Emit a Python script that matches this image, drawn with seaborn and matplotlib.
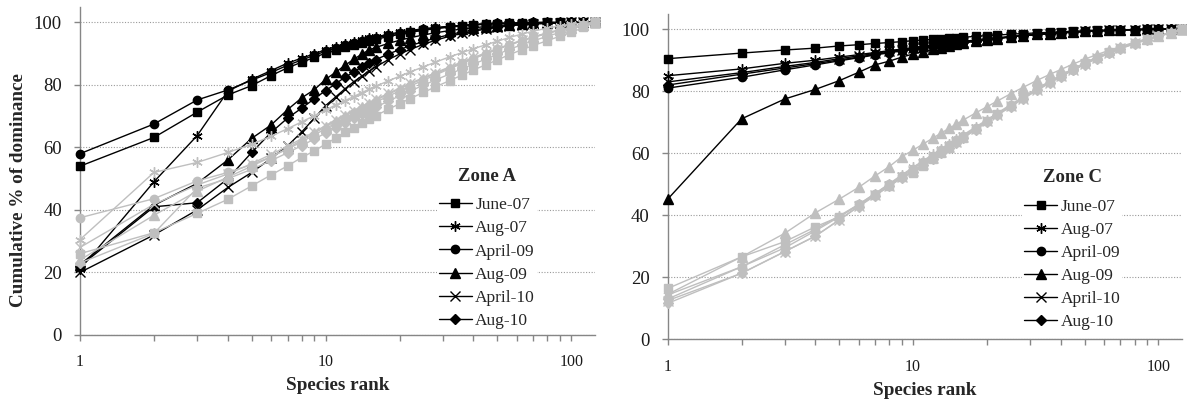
import numpy as np
import pandas as pd
import matplotlib
matplotlib.use("Agg")
import matplotlib.pyplot as plt
import matplotlib.ticker as mticker
import seaborn as sns

# species ranks sampled along each curve
ranks = [1, 2, 3, 4, 5, 6, 7, 8, 9, 10, 11, 12, 13, 14, 15, 16, 18, 20, 22, 25,
         28, 32, 36, 40, 45, 50, 56, 63, 70, 80, 90, 100, 112, 125]

dates = ["June-07", "Aug-07", "April-09", "Aug-09", "April-10", "Aug-10"]
y_ticks = [0, 20, 40, 60, 80, 100]
x_ticks = [1, 10, 100]

# Zone A - observed (black)
a_june07 = [54, 63.2, 71.3, 76.8, 79.8, 83, 85.5, 87.3, 88.8, 90.2, 91.2, 92.1, 92.9, 93.5, 94.1, 94.6, 95.5,
            96.2, 96.8, 97.5, 98, 98.5, 98.9, 99.2, 99.4, 99.6, 99.7, 99.8, 99.9, 100, 100, 100, 100, 100]
a_aug07 = [21, 49, 63.8, 78, 81.8, 84.6, 87, 88.6, 90, 91.3, 92.3, 93.1, 93.8, 94.4, 95, 95.4, 96.2,
           96.9, 97.4, 98, 98.4, 98.8, 99.1, 99.4, 99.6, 99.7, 99.8, 99.9, 100, 100, 100, 100, 100, 100]
a_apr09 = [58, 67.5, 75.2, 78.4, 81.5, 84, 86.3, 88, 89.5, 90.8, 91.8, 92.7, 93.4, 94, 94.6, 95.1, 95.9,
           96.6, 97.1, 97.8, 98.2, 98.7, 99, 99.3, 99.5, 99.7, 99.8, 99.9, 100, 100, 100, 100, 100, 100]
a_aug09 = [22.5, 41.5, 48.5, 56, 62.9, 67.2, 72.1, 75.9, 78.5, 81.8, 84.1, 86.3, 88.2, 89.8, 91.2, 92, 93.3,
           94.3, 95.1, 96, 96.7, 97.4, 97.9, 98.3, 98.7, 99, 99.3, 99.5, 99.7, 99.8, 99.9, 100, 100, 100]
a_apr10 = [20, 32, 40, 47.2, 52, 56.5, 60.5, 65, 69.4, 73.4, 76.2, 78.8, 81, 82.8, 84.4, 85.8, 88.1,
           89.9, 91.3, 93, 94.3, 95.6, 96.5, 97.2, 97.9, 98.4, 98.9, 99.3, 99.5, 99.7, 99.85, 100, 100, 100]
a_aug10 = [22, 41, 42.3, 50, 58.4, 64.8, 69.4, 72.6, 75.6, 78.2, 80.4, 82.5, 84.1, 85.7, 87, 88.1, 89.9,
           91.3, 92.5, 93.9, 95, 96.1, 97, 97.6, 98.2, 98.7, 99.1, 99.4, 99.6, 99.8, 99.9, 100, 100, 100]

# Zone A - expected (grey)
a_june07_g = [26, 32.7, 38.9, 43.4, 47.7, 51.2, 54.1, 56.8, 58.9, 61.1, 63, 64.8, 66.3, 67.7, 69, 70.2, 72.2,
              74, 75.6, 77.6, 79.4, 81.4, 83.2, 84.8, 86.5, 88, 89.7, 91.3, 92.6, 94.2, 95.6, 96.8, 98.4, 100]
a_aug07_g = [30.5, 52, 55.2, 58.4, 61, 63.6, 66, 68.2, 70.2, 72, 73.6, 75, 76.3, 77.5, 78.6, 79.6, 81.3,
             82.8, 84.1, 85.8, 87.3, 89, 90.4, 91.6, 92.9, 94, 95.2, 96.3, 97.2, 98.2, 98.9, 99.4, 99.8, 100]
a_apr09_g = [37.5, 43.6, 49.3, 52, 54.5, 57, 59.5, 61.8, 64, 66, 67.8, 69.4, 70.9, 72.2, 73.4, 74.5, 76.4,
             78.1, 79.6, 81.5, 83.2, 85.2, 86.9, 88.4, 90, 91.4, 92.9, 94.2, 95.3, 96.6, 97.6, 98.4, 99.3, 100]
a_aug09_g = [24, 38.3, 46, 50.5, 54, 57, 59.8, 62.3, 64.6, 66.6, 68.4, 70, 71.5, 72.8, 74, 75.1, 77,
             78.7, 80.2, 82, 83.6, 85.5, 87.1, 88.5, 90, 91.4, 92.8, 94.1, 95.2, 96.5, 97.5, 98.3, 99.2, 100]
a_apr10_g = [28, 41.8, 48, 51.5, 54.8, 57.8, 60.4, 62.8, 65, 67, 68.8, 70.4, 71.8, 73.1, 74.3, 75.4, 77.3,
             79, 80.5, 82.3, 83.9, 85.8, 87.4, 88.8, 90.3, 91.6, 93, 94.3, 95.4, 96.7, 97.7, 98.5, 99.3, 100]
a_aug10_g = [23, 32.5, 47, 50, 53, 55.8, 58.3, 60.6, 62.7, 64.6, 66.3, 67.9, 69.3, 70.6, 71.8, 72.9, 74.8,
             76.5, 78, 79.9, 81.6, 83.5, 85.2, 86.7, 88.3, 89.8, 91.4, 92.9, 94.1, 95.6, 96.8, 97.8, 99, 100]

# Zone C - observed (black)
c_june07 = [90.5, 92.3, 93.3, 93.9, 94.6, 95, 95.4, 95.7, 96, 96.3, 96.5, 96.7, 96.9, 97.1, 97.3, 97.4, 97.7,
            97.9, 98.1, 98.4, 98.6, 98.8, 99, 99.2, 99.3, 99.5, 99.6, 99.7, 99.8, 99.9, 100, 100, 100, 100]
c_aug07 = [85, 87.2, 89, 90, 91, 91.8, 92.5, 93.1, 93.6, 94.1, 94.5, 94.9, 95.2, 95.5, 95.8, 96.1, 96.5,
           96.9, 97.2, 97.6, 97.9, 98.3, 98.6, 98.8, 99.1, 99.3, 99.5, 99.6, 99.75, 99.85, 99.95, 100, 100, 100]
c_apr09 = [81, 84.5, 86.9, 88.5, 89.8, 90.8, 91.7, 92.4, 93, 93.6, 94, 94.5, 94.8, 95.2, 95.5, 95.8, 96.3,
           96.7, 97.1, 97.5, 97.9, 98.3, 98.6, 98.8, 99.1, 99.3, 99.5, 99.6, 99.75, 99.85, 99.95, 100, 100, 100]
c_aug09 = [45.2, 71.1, 77.5, 80.6, 83.4, 86.1, 88.5, 89.7, 91, 92, 92.8, 93.5, 94.1, 94.6, 95.1, 95.5, 96.1,
           96.6, 97, 97.5, 97.9, 98.3, 98.6, 98.9, 99.1, 99.3, 99.5, 99.6, 99.75, 99.85, 99.95, 100, 100, 100]
c_apr10 = [83, 86, 88, 89.3, 90.5, 91.4, 92.2, 92.9, 93.4, 93.9, 94.3, 94.7, 95.1, 95.4, 95.7, 96, 96.4,
           96.8, 97.1, 97.6, 97.9, 98.3, 98.6, 98.8, 99.1, 99.3, 99.5, 99.6, 99.75, 99.85, 99.95, 100, 100, 100]
c_aug10 = [82, 85.5, 87.5, 88.9, 90.1, 91, 91.9, 92.6, 93.2, 93.7, 94.2, 94.6, 95, 95.3, 95.6, 95.9, 96.3,
           96.7, 97.1, 97.5, 97.9, 98.3, 98.6, 98.8, 99.1, 99.3, 99.5, 99.6, 99.75, 99.85, 99.95, 100, 100, 100]

# Zone C - expected (grey)
c_june07_g = [16.4, 26.6, 31.5, 36.3, 39.5, 43.3, 46.5, 49.5, 52.5, 53.5, 56, 58, 60, 61.8, 63.5, 65, 67.8,
              70.3, 72.5, 75.3, 77.8, 80.7, 83, 85, 87.2, 89, 90.8, 92.5, 94, 95.6, 96.8, 97.8, 98.9, 100]
c_aug07_g = [14.3, 23.4, 30.5, 35.5, 39.8, 43.5, 47, 50.2, 53, 55.5, 57.6, 59.6, 61.4, 63, 64.5, 65.9, 68.5,
             70.8, 72.9, 75.7, 78.1, 80.9, 83.2, 85.2, 87.3, 89.1, 91, 92.7, 94.1, 95.7, 96.9, 97.9, 99, 100]
c_apr09_g = [13, 23.4, 29.5, 35, 39.5, 43.5, 47, 50, 52.8, 55, 57.2, 59.2, 61, 62.7, 64.2, 65.6, 68.2,
             70.5, 72.6, 75.4, 77.8, 80.6, 82.9, 84.9, 87, 88.8, 90.7, 92.4, 93.9, 95.5, 96.8, 97.8, 98.9, 100]
c_aug09_g = [14.5, 26.6, 34.2, 40.8, 45.2, 49, 52.7, 55.7, 58.9, 61, 63, 64.8, 66.5, 68, 69.4, 70.7, 73,
             75, 76.8, 79.2, 81.2, 83.5, 85.4, 87, 88.8, 90.3, 91.8, 93.2, 94.4, 95.8, 96.9, 97.8, 98.9, 100]
c_apr10_g = [12.5, 21.3, 28.3, 33.3, 38.5, 43, 46.5, 49.5, 52.2, 54.3, 56.5, 58.6, 60.4, 62.1, 63.7, 65.2, 67.9,
             70.3, 72.4, 75.2, 77.6, 80.4, 82.7, 84.8, 86.9, 88.7, 90.6, 92.3, 93.8, 95.4, 96.7, 97.7, 98.8, 100]
c_aug10_g = [11.6, 21.3, 28.3, 33.3, 38.5, 42.8, 46.3, 49.4, 52, 54, 56.3, 58.3, 60.1, 61.8, 63.4, 64.9, 67.6,
             70, 72.2, 75, 77.5, 80.3, 82.6, 84.7, 86.8, 88.6, 90.5, 92.2, 93.7, 95.3, 96.6, 97.7, 98.8, 100]

zone_a_obs = [a_june07, a_aug07, a_apr09, a_aug09, a_apr10, a_aug10]
zone_a_exp = [a_june07_g, a_aug07_g, a_apr09_g, a_aug09_g, a_apr10_g, a_aug10_g]
zone_c_obs = [c_june07, c_aug07, c_apr09, c_aug09, c_apr10, c_aug10]
zone_c_exp = [c_june07_g, c_aug07_g, c_apr09_g, c_aug09_g, c_apr10_g, c_aug10_g]

markers = ['s', (6, 2, 0), 'o', '^', 'x', 'D']
msizes = [6, 7.5, 6, 6.5, 6.5, 5]
BLACK = '#000000'
GREY = '#BFBFBF'
AXIS = '#868686'

sns.set_style('white')
plt.rcParams['font.family'] = ['Liberation Serif', 'DejaVu Serif']

fig = plt.figure(figsize=(11.87, 4.03), dpi=100)
ax_a = fig.add_axes([0.0674, 0.169, 0.4339, 0.814])
ax_c = fig.add_axes([0.5625, 0.158, 0.4335, 0.808])


def draw_panel(ax, obs, exp, title, leg_anchor):
    handles = []
    for i, vals in enumerate(obs):
        sns.lineplot(x=ranks, y=vals, ax=ax, color=BLACK, lw=1, marker=markers[i],
                     markersize=msizes[i], markeredgecolor=BLACK, markerfacecolor=BLACK,
                     markeredgewidth=1, estimator=None, sort=False, legend=False,
                     zorder=3, clip_on=False)
        handles.append(ax.get_lines()[-1])
    for i, vals in enumerate(exp):
        sns.lineplot(x=ranks, y=vals, ax=ax, color=GREY, lw=1, marker=markers[i],
                     markersize=msizes[i], markeredgecolor=GREY, markerfacecolor=GREY,
                     markeredgewidth=1, estimator=None, sort=False, legend=False,
                     zorder=4, clip_on=False)

    ax.set_xscale('log')
    ax.set_xlim(1, 125)
    ax.set_ylim(0, 105)
    ax.set_yticks(y_ticks)
    ax.set_xticks(x_ticks)
    ax.xaxis.set_major_formatter(mticker.FuncFormatter(lambda v, p: f"{v:g}"))
    ax.xaxis.set_minor_locator(mticker.LogLocator(base=10, subs=np.arange(2, 10)))
    ax.xaxis.set_minor_formatter(mticker.NullFormatter())
    ax.yaxis.grid(True, color='#9A9A9A', ls=(0, (1, 1.5)), lw=0.8)
    ax.xaxis.grid(False)
    ax.set_axisbelow(True)
    for s in ['top', 'right']:
        ax.spines[s].set_visible(False)
    for s in ['left', 'bottom']:
        ax.spines[s].set_color(AXIS)
        ax.spines[s].set_linewidth(1)
    ax.tick_params(axis='x', which='both', direction='out', length=4, width=1,
                   color=AXIS, pad=10, labelsize=11.5, labelcolor='#1a1a1a', bottom=True)
    ax.tick_params(axis='y', which='major', direction='out', length=4, width=1,
                   color=AXIS, pad=9, labelsize=13.5, labelcolor='#1a1a1a', left=True)
    ax.set_xlabel('Species rank', fontsize=13.8, fontweight='bold', labelpad=5)
    ax.set_ylabel('')

    leg = ax.legend(handles=handles, labels=dates, loc='upper center', bbox_to_anchor=leg_anchor,
                    title=title, frameon=True, facecolor='white', edgecolor='none', framealpha=1,
                    fontsize=12.5, handlelength=1.9, handletextpad=0.2, labelspacing=0.4,
                    borderpad=0.1, borderaxespad=0)
    leg.get_title().set_fontweight('bold')
    leg.get_title().set_fontsize(13.5)
    leg._legend_box.sep = 9
    leg.set_zorder(5)


draw_panel(ax_a, zone_a_obs, zone_a_exp, 'Zone A', (0.79, 0.515))
draw_panel(ax_c, zone_c_obs, zone_c_exp, 'Zone C', (0.786, 0.528))

ax_a.set_ylabel('Cumulative % of dominance', fontsize=13.8, fontweight='bold')
ax_a.yaxis.set_label_coords(-0.102, 0.44)

fig.savefig('out.png', dpi=100)
